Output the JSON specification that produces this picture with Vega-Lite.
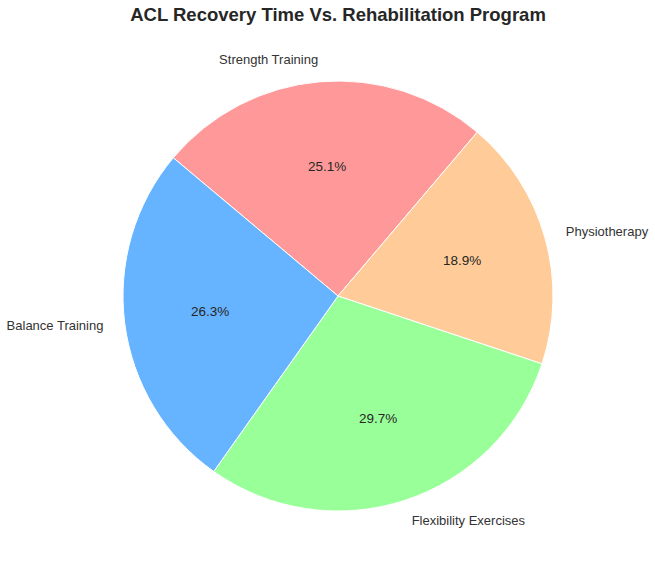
{
  "$schema": "https://vega.github.io/schema/vega-lite/v6.json",
  "width": 634,
  "height": 554,
  "autosize": "none",
  "padding": {"left": 21, "top": 19, "right": 0, "bottom": 0},
  "background": "white",
  "title": {
    "text": "ACL Recovery Time Vs. Rehabilitation Program",
    "font": "Liberation Sans",
    "fontSize": 18.5,
    "fontWeight": "bold",
    "color": "#262626",
    "anchor": "middle",
    "offset": -5
  },
  "config": {"view": {"stroke": null}},
  "data": {
    "values": [
      {"program": "Strength Training", "share": 0.251, "rank": 1},
      {"program": "Physiotherapy", "share": 0.189, "rank": 2},
      {"program": "Flexibility Exercises", "share": 0.297, "rank": 3},
      {"program": "Balance Training", "share": 0.263, "rank": 4}
    ]
  },
  "layer": [
    {
      "mark": {"type": "arc", "outerRadius": 215, "stroke": "white", "strokeWidth": 1},
      "encoding": {
        "theta": {"field": "share", "type": "quantitative", "stack": true, "scale": {"range": [-0.8727, 5.4105]}},
        "order": {"field": "rank", "type": "quantitative"},
        "color": {
          "field": "program",
          "type": "nominal",
          "legend": null,
          "scale": {
            "domain": ["Strength Training", "Physiotherapy", "Flexibility Exercises", "Balance Training"],
            "range": ["#ff9999", "#ffcc99", "#99ff99", "#66b3ff"]
          }
        }
      }
    },
    {
      "mark": {"type": "text", "radius": 129, "font": "Liberation Sans", "fontSize": 13.5, "color": "#262626", "baseline": "middle"},
      "encoding": {
        "theta": {"field": "share", "type": "quantitative", "stack": true},
        "order": {"field": "rank", "type": "quantitative"},
        "detail": {"field": "program", "type": "nominal"},
        "text": {"field": "share", "type": "quantitative", "format": ".1%"}
      }
    },
    {
      "mark": {"type": "text", "radius": 236.5, "font": "Liberation Sans", "fontSize": 13, "color": "#333333", "baseline": "middle", "align": "left"},
      "encoding": {
        "theta": {"field": "share", "type": "quantitative", "stack": true},
        "order": {"field": "rank", "type": "quantitative"},
        "detail": {"field": "program", "type": "nominal"},
        "text": {"field": "program", "type": "nominal", "condition": {"test": "datum.rank == 1 || datum.rank == 4", "value": ""}}
      }
    },
    {
      "mark": {"type": "text", "radius": 236.5, "font": "Liberation Sans", "fontSize": 13, "color": "#333333", "baseline": "middle", "align": "right"},
      "encoding": {
        "theta": {"field": "share", "type": "quantitative", "stack": true},
        "order": {"field": "rank", "type": "quantitative"},
        "detail": {"field": "program", "type": "nominal"},
        "text": {"field": "program", "type": "nominal", "condition": {"test": "datum.rank == 2 || datum.rank == 3", "value": ""}}
      }
    }
  ]
}
